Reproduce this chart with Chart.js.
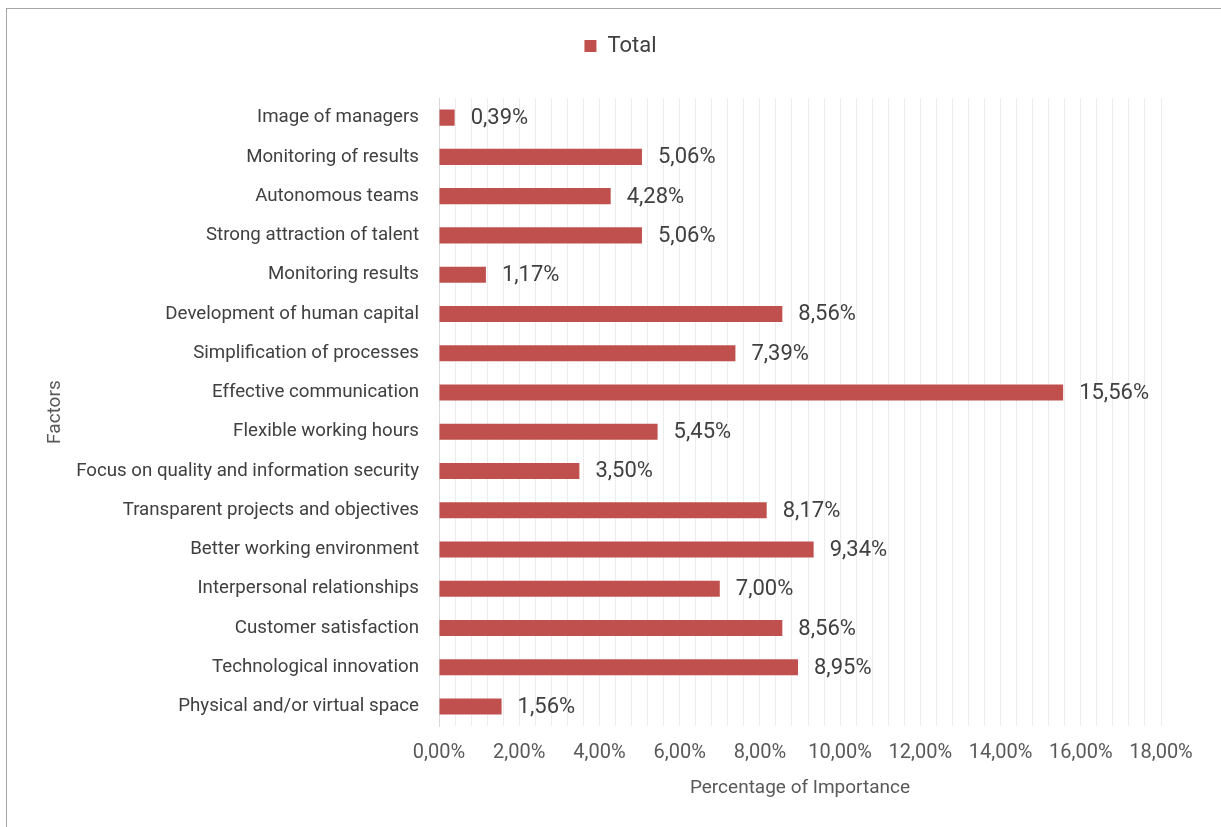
<!DOCTYPE html>
<html>
<head>
  <title>Factors - Percentage of Importance</title>
  <script src="https://cdn.jsdelivr.net/npm/chart.js"></script>
  <style>
    body { margin: 0; background: #fff; }
    #wrap { position: relative; width: 1221px; height: 827px; }
    #frame { position: absolute; left: 6px; top: 8px; width: 1300px; height: 900px;
             border-left: 1px solid #a6a6a6; border-top: 1px solid #a6a6a6; }
  </style>
</head>
<body>
<div id="wrap">
  <div id="frame"></div>
  <canvas id="chartCanvas" width="1221" height="827"></canvas>
</div>

<script>
  const factors = [
    "Image of managers",
    "Monitoring of results",
    "Autonomous teams",
    "Strong attraction of talent",
    "Monitoring results",
    "Development of human capital",
    "Simplification of processes",
    "Effective communication",
    "Flexible working hours",
    "Focus on quality and information security",
    "Transparent projects and objectives",
    "Better working environment",
    "Interpersonal relationships",
    "Customer satisfaction",
    "Technological innovation",
    "Physical and/or virtual space"
  ];
  const totals = [0.39, 5.06, 4.28, 5.06, 1.17, 8.56, 7.39, 15.56, 5.45, 3.50, 8.17, 9.34, 7.00, 8.56, 8.95, 1.56];
  const xMin = 0;
  const xMax = 18;
  const gridStep = 0.4;   // minor gridlines
  const labelStep = 2;    // labelled ticks

  const fmt = v => v.toFixed(2).replace(".", ",") + "%";

  // draws the value next to each bar
  const valueLabels = {
    id: "valueLabels",
    afterDatasetsDraw(chart) {
      const ctx = chart.ctx;
      ctx.save();
      ctx.font = "22px Roboto";
      ctx.fillStyle = "#404040";
      ctx.textAlign = "left";
      ctx.textBaseline = "middle";
      chart.getDatasetMeta(0).data.forEach((bar, i) => {
        ctx.fillText(fmt(totals[i]), bar.x + 16, bar.y + 1);
      });
      ctx.restore();
    }
  };

  // extra room under the legend, and nudge it right a bit
  const legendTweak = {
    id: "legendTweak",
    beforeInit(chart) {
      const fit = chart.legend.fit;
      chart.legend.fit = function () {
        fit.bind(chart.legend)();
        this.height += 31;
      };
    },
    afterLayout(chart) {
      chart.legend.left += 20;
      chart.legend.right += 20;
    }
  };

  const ctx = document.getElementById("chartCanvas").getContext("2d");
  new Chart(ctx, {
    type: "bar",
    data: {
      labels: factors,
      datasets: [{
        label: "Total",
        data: totals,
        backgroundColor: "#c0504d",
        borderWidth: 0,
        barPercentage: 0.41,
        categoryPercentage: 1.0
      }]
    },
    options: {
      indexAxis: "y",
      responsive: false,
      animation: false,
      layout: { padding: { left: 40, right: 60, top: 10, bottom: 27 } },
      scales: {
        x: {
          min: xMin,
          max: xMax,
          grid: { color: "#ececec", lineWidth: 1, drawTicks: false },
          border: { display: false },
          ticks: {
            stepSize: gridStep,
            autoSkip: false,
            maxRotation: 0,
            padding: 15,
            color: "#595959",
            font: { family: "Roboto", size: 20 },
            callback: function (v) {
              const r = v / labelStep;
              return Math.abs(r - Math.round(r)) < 1e-6 ? fmt(v) : "";
            }
          },
          title: {
            display: true,
            text: "Percentage of Importance",
            color: "#595959",
            font: { family: "Roboto", size: 19 },
            padding: { top: -3, bottom: 0 }
          }
        },
        y: {
          grid: { display: false, drawTicks: false },
          border: { display: true, color: "#d9d9d9", width: 1 },
          ticks: {
            padding: 20,
            color: "#404040",
            font: { family: "Roboto", size: 18.7 }
          },
          title: {
            display: true,
            text: "Factors",
            color: "#595959",
            font: { family: "Roboto", size: 19 },
            padding: { top: 4, bottom: 0 }
          },
          afterFit: s => { s.width = 399; }
        }
      },
      plugins: {
        legend: {
          position: "top",
          labels: {
            boxWidth: 12,
            boxHeight: 12,
            color: "#404040",
            font: { family: "Roboto", size: 22 },
            padding: 25
          }
        },
        tooltip: { enabled: false }
      }
    },
    plugins: [valueLabels, legendTweak]
  });
</script>
</body>
</html>
